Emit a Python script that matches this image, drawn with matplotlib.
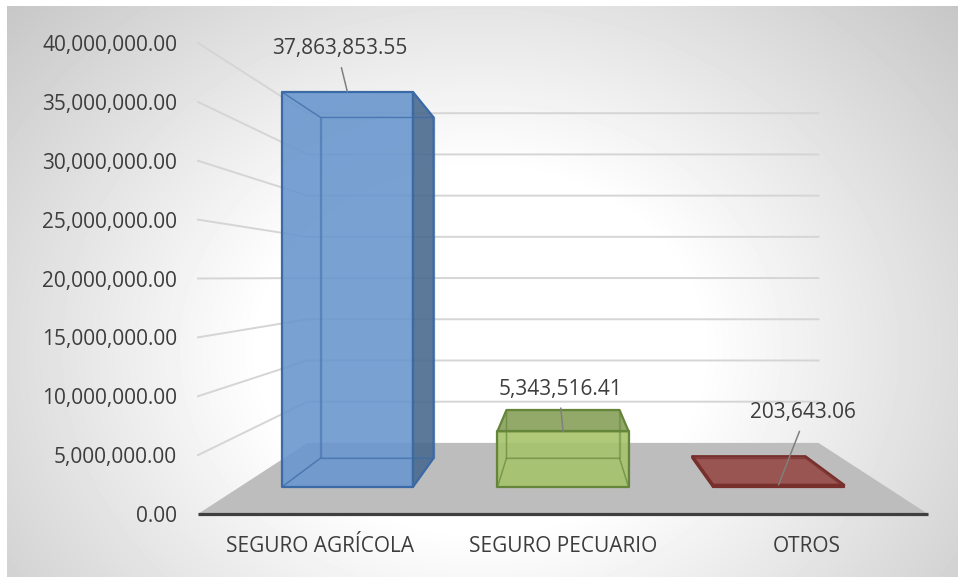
import matplotlib

matplotlib.use("Agg")
import matplotlib.pyplot as plt
import numpy as np
from matplotlib.patches import Polygon

plt.rcParams["font.family"] = ["Open Sans", "DejaVu Sans"]

# data
CATEGORIES = ["SEGURO AGRÍCOLA", "SEGURO PECUARIO", "OTROS"]
VALUES = [37863853.55, 5343516.41, 203643.06]
Y_TICKS = [0, 5e6, 10e6, 15e6, 20e6, 25e6, 30e6, 35e6, 40e6]
Y_MAX = 40e6

# styling
FRONT_COLORS = ["#6a97ce", "#a6c36b", "#a14f4c"]
TOP_COLORS = ["#5c88bf", "#87a05a", "#954a47"]
SIDE_COLORS = ["#4a6a8f", "#7d9a4c", "#7e3532"]
EDGE_COLORS = ["#3c6aa7", "#65853a", "#78302d"]
LABEL_OFFSETS_PX = [(-8, -43), (-3, -42), (24, -72)]
TEXT_COLOR = "#3d3d3d"
FONT_SIZE = 15

W, H = 958, 577

# fake perspective: depth scale s (1 = front plane), eye point in data units
EYE_X = 1.0
EYE_Y = Y_MAX * (514 - 277) / 471
S_BACK = 0.70
S_BAR_FRONT = 0.886
S_BAR_BACK = 0.764
HALF_W = 0.304


def px_box(left, top, right, bottom):
    return [left / W, 1 - bottom / H, (right - left) / W, (bottom - top) / H]


def proj(x, v, s):
    return EYE_X + (x - EYE_X) * s, EYE_Y + (v - EYE_Y) * s


fig = plt.figure(figsize=(W / 100, H / 100), dpi=100)
fig.patch.set_facecolor("white")

# background gradient (white core, grey towards the corners)
bg = fig.add_axes(px_box(7, 6, W, H))
yy, xx = np.mgrid[6:H, 7:W]
r = np.sqrt(((xx - 480) / 550.0) ** 2 + ((yy - 350) / 450.0) ** 2)
shade = 1 - 0.22 * np.clip((r - 0.4) / 0.75, 0, 1)
bg.imshow(shade, cmap="gray", vmin=0, vmax=1, extent=[7, W, H, 6], aspect="auto")
bg.axis("off")

ax = fig.add_axes(px_box(198, 43, 928, 514))
ax.set_xlim(-0.5, 2.5)
ax.set_ylim(0, Y_MAX)
ax.patch.set_visible(False)
for spine in ax.spines.values():
    spine.set_visible(False)

# floor
floor = [proj(-0.5, 0, 1), proj(2.5, 0, 1), proj(2.5, 0, S_BACK), proj(-0.5, 0, S_BACK)]
ax.add_patch(Polygon(floor, closed=True, facecolor="#bdbdbd", edgecolor="none",
                     zorder=1, clip_on=False))

# side wall + back wall gridlines
for t in Y_TICKS[1:]:
    pts = [proj(-0.5, t, 1), proj(-0.5, t, S_BACK), proj(2.5, t, S_BACK)]
    ax.plot([p[0] for p in pts], [p[1] for p in pts], color="#d5d5d5", lw=1.4,
            zorder=1, clip_on=False)

ax.plot([-0.5, 2.5], [0, 0], color="#3f3f3f", lw=2.3, zorder=2,
        solid_capstyle="butt", clip_on=False)

# bars as transparent boxes
for i, v in enumerate(VALUES):
    xl, xr = i - HALF_W, i + HALF_W
    sf, sb = S_BAR_FRONT, S_BAR_BACK
    faces = {
        "front": [(xl, 0, sf), (xr, 0, sf), (xr, v, sf), (xl, v, sf)],
        "back": [(xl, 0, sb), (xr, 0, sb), (xr, v, sb), (xl, v, sb)],
        "top": [(xl, v, sf), (xr, v, sf), (xr, v, sb), (xl, v, sb)],
        "bottom": [(xl, 0, sf), (xr, 0, sf), (xr, 0, sb), (xl, 0, sb)],
        "left": [(xl, 0, sf), (xl, 0, sb), (xl, v, sb), (xl, v, sf)],
        "right": [(xr, 0, sf), (xr, 0, sb), (xr, v, sb), (xr, v, sf)],
    }
    visible = {"front": FRONT_COLORS[i]}
    if v < EYE_Y:
        visible["top"] = TOP_COLORS[i]
    if xl > EYE_X:
        visible["left"] = SIDE_COLORS[i]
    if xr < EYE_X:
        visible["right"] = SIDE_COLORS[i]

    for name, color in visible.items():
        poly = [proj(*p) for p in faces[name]]
        ax.add_patch(Polygon(poly, closed=True, facecolor=color, alpha=0.9,
                             edgecolor="none", zorder=3, clip_on=False))
    for name, corners in faces.items():
        if name in visible:
            continue
        poly = [proj(*p) for p in corners]
        ax.add_patch(Polygon(poly, closed=True, facecolor="none",
                             edgecolor=EDGE_COLORS[i], alpha=0.45, lw=1.0,
                             zorder=4, clip_on=False))
    for name in visible:
        poly = [proj(*p) for p in faces[name]]
        ax.add_patch(Polygon(poly, closed=True, facecolor="none",
                             edgecolor=EDGE_COLORS[i], lw=1.6, zorder=5,
                             joinstyle="round", clip_on=False))

    dx, dy = LABEL_OFFSETS_PX[i]
    ax.annotate(f"{v:,.2f}", xy=proj(i, v, S_BAR_FRONT),
                xytext=(dx * 0.72, -dy * 0.72), textcoords="offset points",
                ha="center", va="center", fontsize=FONT_SIZE, color=TEXT_COLOR,
                zorder=6, annotation_clip=False,
                arrowprops=dict(arrowstyle="-", color="#7f7f7f", lw=1.1,
                                shrinkA=4, shrinkB=0, relpos=(0.5, 0)))

ax.set_yticks(Y_TICKS)
ax.set_yticklabels([f"{t:,.2f}" for t in Y_TICKS])
ax.set_xticks(range(len(CATEGORIES)))
ax.set_xticklabels(CATEGORIES)
ax.tick_params(axis="y", length=0, pad=15, labelsize=FONT_SIZE, labelcolor=TEXT_COLOR)
ax.tick_params(axis="x", length=0, pad=16, labelsize=FONT_SIZE, labelcolor=TEXT_COLOR)

fig.savefig("out.png", dpi=100)
